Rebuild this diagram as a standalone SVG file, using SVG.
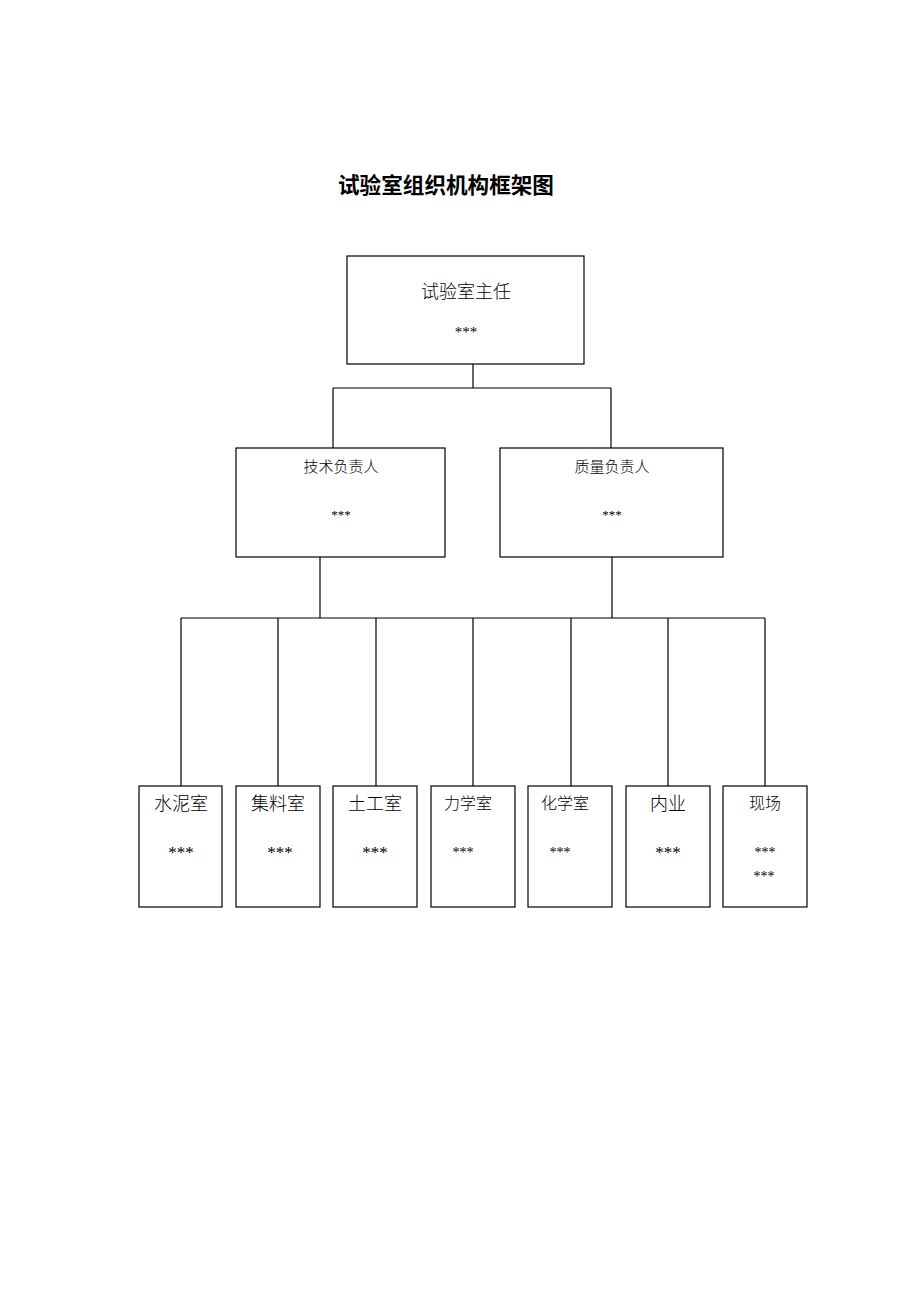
<svg xmlns="http://www.w3.org/2000/svg" width="920" height="1302" viewBox="0 0 920 1302">
<style>
.box{fill:#fff;stroke:#000;stroke-width:1.2}
.ln{stroke:#000;stroke-width:1.2;fill:none}
.cj{font-family:"Liberation Serif","Noto Sans CJK SC",serif;fill:#000;font-weight:300}
.st{font-family:"Liberation Serif",serif;fill:#000}
.ttl{font-family:"Liberation Sans","Noto Sans CJK SC",sans-serif;font-weight:bold;font-size:21.6px;fill:#000}
</style>
<rect width="920" height="1302" fill="#fff"/>
<text class="ttl" x="446" y="193" text-anchor="middle">试验室组织机构框架图</text>
<g id="connectors">
<path class="ln" d="M473 364V388M333 388H611M333 388V448M611 388V448"/>
<path class="ln" d="M320 557V618M612 557V618M181 618H765"/>
<path class="ln" d="M181 618V786M278 618V786M376 618V786M473 618V786M571 618V786M668 618V786M765 618V786"/>
</g>
<g id="director">
<rect class="box" x="347" y="256" width="237" height="108"/>
<text class="cj" x="466" y="298" font-size="18" text-anchor="middle">试验室主任</text>
<text class="st" x="466" y="337" font-size="15" text-anchor="middle">***</text>
</g>
<g id="tech">
<rect class="box" x="236" y="448" width="209" height="109"/>
<text class="cj" x="341" y="472" font-size="15" text-anchor="middle">技术负责人</text>
<text class="st" x="341" y="519" font-size="13" text-anchor="middle">***</text>
</g>
<g id="quality">
<rect class="box" x="500" y="448" width="223" height="109"/>
<text class="cj" x="612" y="472" font-size="15" text-anchor="middle">质量负责人</text>
<text class="st" x="612" y="519" font-size="13" text-anchor="middle">***</text>
</g>
<g id="cement">
<rect class="box" x="139" y="786" width="83" height="121"/>
<text class="cj" x="181" y="810" font-size="18" text-anchor="middle">水泥室</text>
<text class="st" x="181" y="858" font-size="17" text-anchor="middle">***</text>
</g>
<g id="aggregate">
<rect class="box" x="236" y="786" width="84" height="121"/>
<text class="cj" x="278" y="810" font-size="18" text-anchor="middle">集料室</text>
<text class="st" x="280" y="858" font-size="17" text-anchor="middle">***</text>
</g>
<g id="soil">
<rect class="box" x="333" y="786" width="84" height="121"/>
<text class="cj" x="375" y="810" font-size="18" text-anchor="middle">土工室</text>
<text class="st" x="375" y="858" font-size="17" text-anchor="middle">***</text>
</g>
<g id="mechanics">
<rect class="box" x="431" y="786" width="84" height="121"/>
<text class="cj" x="444" y="809" font-size="16">力学室</text>
<text class="st" x="463" y="857" font-size="14" text-anchor="middle">***</text>
</g>
<g id="chemistry">
<rect class="box" x="528" y="786" width="84" height="121"/>
<text class="cj" x="541" y="809" font-size="16">化学室</text>
<text class="st" x="560" y="857" font-size="14" text-anchor="middle">***</text>
</g>
<g id="office">
<rect class="box" x="626" y="786" width="84" height="121"/>
<text class="cj" x="668" y="810" font-size="18" text-anchor="middle">内业</text>
<text class="st" x="668" y="858" font-size="17" text-anchor="middle">***</text>
</g>
<g id="site">
<rect class="box" x="723" y="786" width="84" height="121"/>
<text class="cj" x="765" y="809" font-size="16" text-anchor="middle">现场</text>
<text class="st" x="765" y="857" font-size="14" text-anchor="middle">***</text>
<text class="st" x="764" y="881" font-size="14" text-anchor="middle">***</text>
</g>
</svg>
